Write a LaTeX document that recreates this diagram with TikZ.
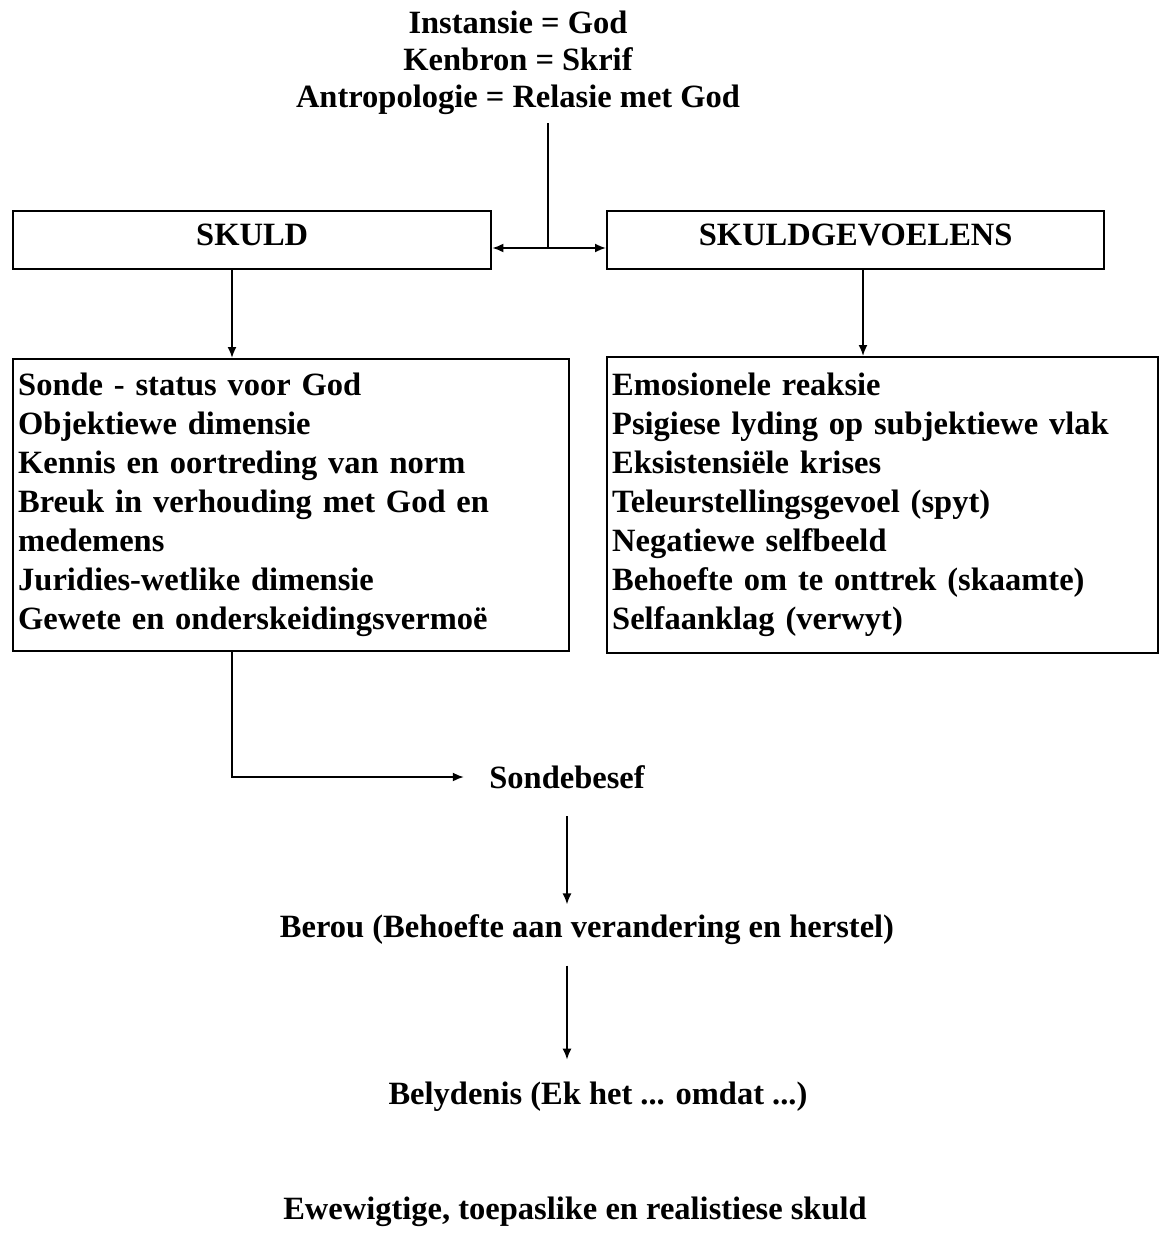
\documentclass[tikz,border=0pt]{standalone}
\usepackage{fontspec}
\setmainfont{Liberation Serif}
\usetikzlibrary{positioning,arrows.meta}

\begin{document}
\begin{tikzpicture}[x=1pt, y=-1pt, >={Latex[length=11pt,width=9pt]},
  every node/.style={font=\bfseries\fontsize{32.5}{39}\selectfont}]
  % boxes, lists and plain lines
  \tikzset{head/.style={draw, line width=2.4pt, minimum height=58pt, inner sep=0pt, text depth=11pt, anchor=north west},
    list/.style={draw, line width=2.4pt, align=left, inner xsep=5pt, inner ysep=0pt, anchor=north west},
    link/.style={line width=1.8pt}}
  \useasboundingbox (0,0) rectangle (1159,1246);

  % top block
  \node[align=center, inner sep=0pt, anchor=north, font=\bfseries\fontsize{32.5}{37}\selectfont] (bron) at (518,11)
    {Instansie = God\\Kenbron = Skrif\\Antropologie = Relasie met God};

  \node[head, minimum width=478pt] (skuld) at (12,210) {SKULD};
  \node[head, minimum width=497pt] (gevoel) at (606,210) {SKULDGEVOELENS};

  \node[list, text width=546pt, minimum height=292pt] (sonde) at (12,358)
    {Sonde - status voor God\\Objektiewe dimensie\\Kennis en oortreding van norm\\Breuk in verhouding met God en\\medemens\\Juridies-wetlike dimensie\\Gewete en onderskeidingsvermoë};
  \node[list, text width=541pt, minimum height=296pt] (emosie) at (606,356)
    {Emosionele reaksie\\Psigiese lyding op subjektiewe vlak\\Eksistensiële krises\\Teleurstellingsgevoel (spyt)\\Negatiewe selfbeeld\\Behoefte om te onttrek (skaamte)\\Selfaanklag (verwyt)};

  % steps below
  \node (besef) at (567,777) {Sondebesef};
  \node (berou) at (587,930) {Berou (Behoefte aan verandering en herstel)};
  \node (belyd) at (598,1097) {Belydenis (Ek het ... omdat ...)};
  \node (slot) at (575,1212) {Ewewigtige, toepaslike en realistiese skuld};

  % connectors
  \coordinate (hub) at (548,248);
  \coordinate (links) at (232,0);
  \coordinate (regs) at (863,0);
  \draw[link, shorten <=8pt] (bron.south -| hub) -- (hub);
  \draw[link, <->] (skuld.east |- hub) -- (gevoel.west |- hub);
  \draw[link, ->] (skuld.south -| links) -- (sonde.north -| links);
  \draw[link, ->] (gevoel.south -| regs) -- (emosie.north -| regs);
  \draw[link, ->, shorten >=22pt] (sonde.south -| links) |- (besef.west);
  \draw[link, ->, shorten <=24pt, shorten >=7pt] (besef.south) -- (besef.south |- berou.north);
  \draw[link, ->, shorten <=17pt, shorten >=19pt] (berou.south -| besef) -- (belyd.north -| besef);
\end{tikzpicture}
\end{document}
